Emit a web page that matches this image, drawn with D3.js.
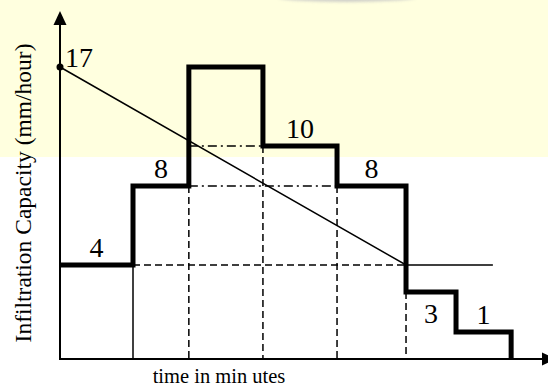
<!DOCTYPE html>
<html>
<head>
<meta charset="utf-8">
<script src="https://cdn.jsdelivr.net/npm/d3@7"></script>
<style>
  body { margin: 0; background: #fff; }
  svg { display: block; }
</style>
</head>
<body>
<div id="chart"></div>
<script>
// time breaks (minutes, estimated - no ticks on the axis)
const timeBreaks = [0, 20, 35.3, 55.6, 75.9, 94.8, 108.5, 123.6];
// rainfall intensity for each interval (peak is unlabelled)
const intensity = [4, 8, 17, 10, 8, 3, 1];
const stepLabels = ["4", "8", "", "10", "8", "3", "1"];
// infiltration capacity curve: 17 falling to 4, then constant
const capTime = [0, 94.8, 118.6];
const capValue = [17, 4, 4];
// schematic (not to scale) vertical axis levels
const levels = [0, 1, 3, 4, 8, 10, 17];

const width = 548, height = 387;
const serif = "'Liberation Serif', 'Times New Roman', 'DejaVu Serif', serif";

const svg = d3.select("#chart")
    .append("svg")
    .attr("width", width)
    .attr("height", height)
    .attr("font-family", serif)
    .attr("viewBox", [0, 0, width, height]);

// background band + faint shadow at the top
const defs = svg.append("defs");
defs.append("filter").attr("id", "blur")
    .attr("x", "-20%").attr("y", "-100%")
    .attr("width", "140%").attr("height", "300%")
    .append("feGaussianBlur").attr("stdDeviation", 1.8);

svg.append("rect")
    .attr("x", 0).attr("y", 0)
    .attr("width", width).attr("height", 157)
    .attr("fill", "#ffffdf");

svg.append("ellipse")
    .attr("cx", 347).attr("cy", -3)
    .attr("rx", 70).attr("ry", 5)
    .attr("fill", "#c4c4c4")
    .attr("opacity", 0.8)
    .attr("filter", "url(#blur)");

let x = d3.scaleLinear()
    .domain([0, 130])
    .range([60, 534.5]);

// piecewise scale, the drawing is schematic
let y = d3.scaleLinear()
    .domain(levels)
    .range([359, 332, 292, 265, 186, 146, 67]);

const tEnd = timeBreaks[timeBreaks.length - 1];

// guide lines
const guides = svg.append("g")
    .attr("stroke", "black")
    .attr("stroke-width", 1.5)
    .attr("fill", "none");

// thin solid drop at end of first interval
guides.append("line")
    .attr("x1", x(timeBreaks[1])).attr("x2", x(timeBreaks[1]))
    .attr("y1", y(intensity[0])).attr("y2", y(0));

// dashed drops
[[timeBreaks[2], intensity[1]], [timeBreaks[3], intensity[3]],
 [timeBreaks[4], intensity[4]], [timeBreaks[5], intensity[5]]].forEach(([t, v]) => {
    guides.append("line")
        .attr("x1", x(t)).attr("x2", x(t))
        .attr("y1", y(v)).attr("y2", y(0))
        .attr("stroke-dasharray", "7,4");
});

// dashed horizontal at capacity 4
guides.append("line")
    .attr("x1", x(timeBreaks[1])).attr("x2", x(capTime[1]))
    .attr("y1", y(4)).attr("y2", y(4))
    .attr("stroke-dasharray", "7,4");

// dash-dot horizontals
guides.append("line")
    .attr("x1", x(timeBreaks[2])).attr("x2", x(timeBreaks[3]))
    .attr("y1", y(10)).attr("y2", y(10))
    .attr("stroke-dasharray", "9,4,2,4");

guides.append("line")
    .attr("x1", x(timeBreaks[2])).attr("x2", x(timeBreaks[4]))
    .attr("y1", y(8)).attr("y2", y(8))
    .attr("stroke-dasharray", "9,4,2,4");

// infiltration capacity line
const cap = capTime.map((t, i) => ({ t: t, v: capValue[i] }));
svg.append("path")
    .datum(cap)
    .attr("fill", "none")
    .attr("stroke", "black")
    .attr("stroke-width", 1.5)
    .attr("d", d3.line().x(d => x(d.t)).y(d => y(d.v)));

// rainfall step line
const steps = intensity.map((v, i) => ({ t: timeBreaks[i], v: v }));
steps.push({ t: tEnd, v: intensity[intensity.length - 1] });
steps.push({ t: tEnd, v: 0 });

svg.append("path")
    .datum(steps)
    .attr("fill", "none")
    .attr("stroke", "black")
    .attr("stroke-width", 5)
    .attr("stroke-linejoin", "miter")
    .attr("d", d3.line().curve(d3.curveStepAfter).x(d => x(d.t)).y(d => y(d.v)));

// axes
const axes = svg.append("g").attr("stroke", "black").attr("stroke-width", 2);
axes.append("line")
    .attr("x1", x(0)).attr("x2", x(0))
    .attr("y1", y(0) + 1).attr("y2", 24);
axes.append("line")
    .attr("x1", x(0) - 1).attr("x2", 543)
    .attr("y1", y(0)).attr("y2", y(0));

svg.append("path")
    .attr("d", `M${x(0)},11 L${x(0) - 6.5},25 L${x(0) + 6.5},25 Z`)
    .attr("fill", "black");
svg.append("path")
    .attr("d", `M556,${y(0)} L542,${y(0) - 6.5} L542,${y(0) + 6.5} Z`)
    .attr("fill", "black");

// start point of capacity curve
svg.append("circle")
    .attr("cx", x(capTime[0]))
    .attr("cy", y(capValue[0]))
    .attr("r", 3.5)
    .attr("fill", "black");

svg.append("text")
    .attr("x", x(capTime[0]) + 5)
    .attr("y", y(capValue[0]))
    .attr("font-size", 28)
    .text(capValue[0]);

// step labels
svg.append("g")
    .attr("font-size", 28)
    .attr("text-anchor", "middle")
    .selectAll("text")
    .data(stepLabels)
    .join("text")
    .attr("x", (d, i) => x((timeBreaks[i] + timeBreaks[i + 1]) / 2))
    .attr("y", (d, i) => i === 5 ? y(intensity[6]) - 9 : y(intensity[i]) - 8)
    .text(d => d);

// axis titles
svg.append("text")
    .attr("transform", "translate(31,193) rotate(-90)")
    .attr("text-anchor", "middle")
    .attr("font-size", 23.5)
    .text("Infiltration Capacity (mm/hour)");

svg.append("text")
    .attr("x", 219)
    .attr("y", 383)
    .attr("text-anchor", "middle")
    .attr("font-size", 20.5)
    .text("time in min utes");
</script>
</body>
</html>
